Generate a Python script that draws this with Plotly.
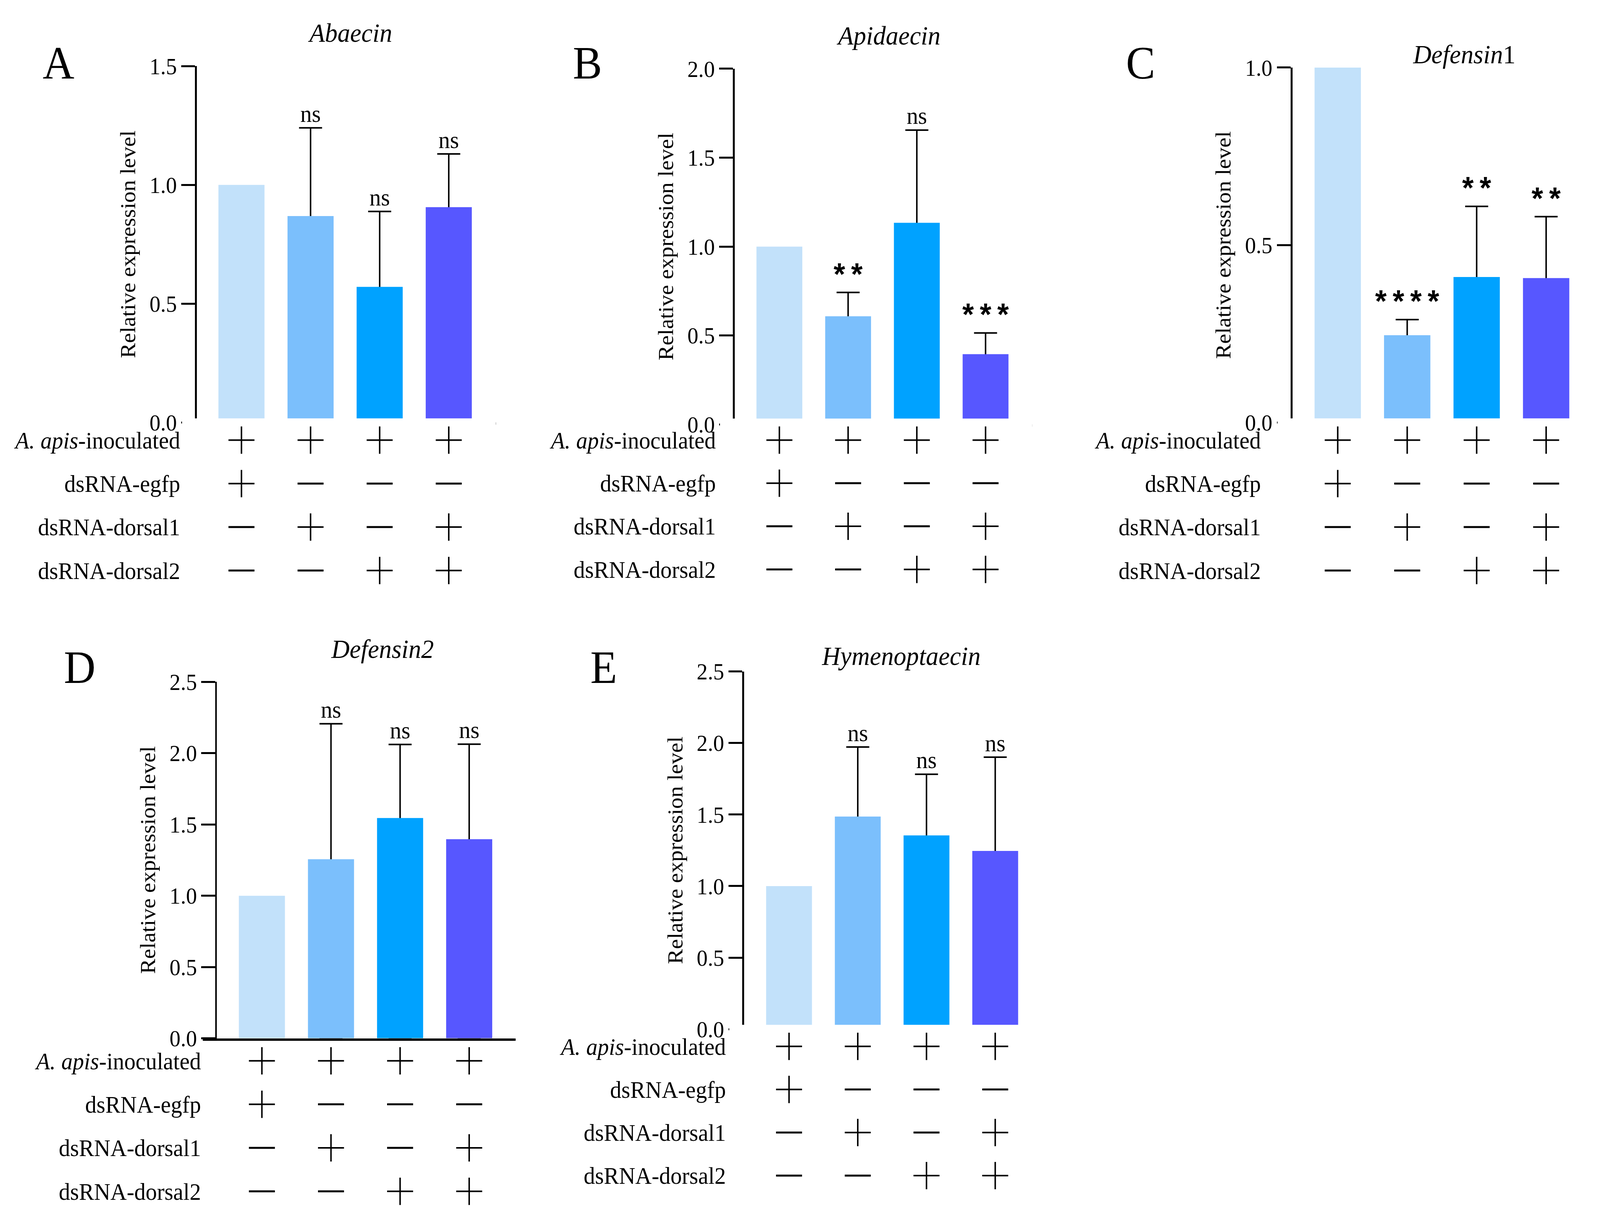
import plotly.graph_objects as go

# --- data ---
genes = ["<i>Abaecin</i>", "<i>Apidaecin</i>", "<i>Defensin</i>1", "<i>Defensin2</i>", "<i>Hymenoptaecin</i>"]
letters = ["A", "B", "C", "D", "E"]

abaecin_mean = [1.0, 0.869, 0.571, 0.906]
abaecin_err = [None, 0.371, 0.317, 0.224]
abaecin_sig = ["", "ns", "ns", "ns"]

apidaecin_mean = [1.0, 0.608, 1.134, 0.395]
apidaecin_err = [None, 0.134, 0.521, 0.119]
apidaecin_sig = ["", "**", "ns", "***"]

defensin1_mean = [1.0, 0.246, 0.410, 0.407]
defensin1_err = [None, 0.044, 0.199, 0.173]
defensin1_sig = ["", "****", "**", "**"]

defensin2_mean = [1.0, 1.256, 1.545, 1.396]
defensin2_err = [None, 0.950, 0.516, 0.667]
defensin2_sig = ["", "ns", "ns", "ns"]

hymenoptaecin_mean = [1.0, 1.486, 1.354, 1.246]
hymenoptaecin_err = [None, 0.486, 0.428, 0.655]
hymenoptaecin_sig = ["", "ns", "ns", "ns"]

y_max = [1.5, 2.0, 1.0, 2.5, 2.5]

row_labels = ["<i>A. apis</i>-inoculated", "dsRNA-egfp", "dsRNA-dorsal1", "dsRNA-dorsal2"]
row_inoculated = ["+", "+", "+", "+"]
row_egfp = ["+", "-", "-", "-"]
row_dorsal1 = ["-", "+", "-", "+"]
row_dorsal2 = ["-", "-", "+", "+"]

means = [abaecin_mean, apidaecin_mean, defensin1_mean, defensin2_mean, hymenoptaecin_mean]
errs = [abaecin_err, apidaecin_err, defensin1_err, defensin2_err, hymenoptaecin_err]
sigs = [abaecin_sig, apidaecin_sig, defensin1_sig, defensin2_sig, hymenoptaecin_sig]
table = [row_inoculated, row_egfp, row_dorsal1, row_dorsal2]

bar_colors = ["#C2E1FA", "#7BBFFC", "#00A2FF", "#5757FF"]

W, H = 4307, 3138
SERIF = "Liberation Serif, Times New Roman, serif"

# panel placement in pixels (x-axis start/end, first bar centre, bar step,
# y-axis x, y top / zero, first/last table row, title, letter, label standoff)
geo = [
    dict(x0=490, x1=1335, c0=650, step=186, yax=527, ytop=140, ybot=1072,
         r1=1118, r4=1459, title=(942, 53), letter=(157, 132), stand=4),
    dict(x0=1938, x1=2779, c0=2098, step=185, yax=1975, ytop=147, ybot=1077,
         r1=1118, r4=1456, title=(2392, 60), letter=(1581, 132), stand=10),
    dict(x0=3439, x1=4286, c0=3601, step=187, yax=3476, ytop=144, ybot=1072,
         r1=1118, r4=1459, title=(3941, 109), letter=(3070, 132), stand=44),
    dict(x0=546, x1=1388, c0=705, step=186, yax=581, ytop=1750, ybot=2682,
         r1=2741, r4=3082, title=(1029, 1664), letter=(214, 1713), stand=4),
    dict(x0=1963, x1=2807, c0=2124, step=185, yax=2000, ytop=1723, ybot=2658,
         r1=2703, r4=3041, title=(2426, 1682), letter=(1625, 1713), stand=8),
]


def fx(p):
    return p / W


def fy(p):
    return min(max(1 - p / H, 0), 1)


fig = go.Figure()
annotations = []
cols = [0, 1, 2, 3]

for k, g in enumerate(geo):
    xa = f"x{k + 1}"
    ya = f"y{2 * k + 1}"
    yt = f"y{2 * k + 2}"

    tops = [m + e if e is not None else None for m, e in zip(means[k], errs[k])]
    has_err = [i for i, e in enumerate(errs[k]) if e is not None]

    # error bars sit on an invisible bar trace underneath, so the stem and lower
    # cap are hidden by the coloured bars and the x-axis line
    fig.add_trace(go.Bar(
        x=[cols[i] for i in has_err], y=[means[k][i] for i in has_err], width=0.667,
        marker=dict(color="rgba(0,0,0,0)", line=dict(width=0)),
        error_y=dict(type="data", array=[errs[k][i] for i in has_err],
                     arrayminus=[means[k][i] for i in has_err], symmetric=False,
                     color="black", thickness=4, width=31),
        xaxis=xa, yaxis=ya, showlegend=False, hoverinfo="skip",
    ))
    fig.add_trace(go.Bar(
        x=cols, y=means[k], width=0.667, marker=dict(color=bar_colors, line=dict(width=0)),
        xaxis=xa, yaxis=ya, showlegend=False,
    ))

    sx = [c for c, s in zip(cols, sigs[k]) if s]
    sy = [t for t, s in zip(tops, sigs[k]) if s]
    st = [s if s == "ns" else "\u2009".join(s) for s in sigs[k] if s]
    fam = [SERIF if s == "ns" else "Liberation Sans, Arial" for s in st]
    size = [62 if s == "ns" else 80 for s in st]
    fig.add_trace(go.Scatter(
        x=sx, y=sy, mode="text", text=st, textposition="top center",
        textfont=dict(family=fam, size=size, color="black", weight=[400 if s == "ns" else 700 for s in st]),
        cliponaxis=False, xaxis=xa, yaxis=ya, showlegend=False,
    ))

    # +/- table
    px_, py_, mx_, my_ = [], [], [], []
    for r, row in enumerate(table):
        for c, v in enumerate(row):
            if v == "+":
                px_.append(c)
                py_.append(r)
            else:
                mx_.append(c)
                my_.append(r)
    fig.add_trace(go.Scatter(
        x=px_, y=py_, mode="markers",
        marker=dict(symbol="cross-thin", size=50, line=dict(width=4, color="black")),
        xaxis=xa, yaxis=yt, showlegend=False, cliponaxis=False,
    ))
    fig.add_trace(go.Scatter(
        x=mx_, y=my_, mode="markers",
        marker=dict(symbol="line-ew", size=50, line=dict(width=5, color="black")),
        xaxis=xa, yaxis=yt, showlegend=False, cliponaxis=False,
    ))

    lo = (g["x0"] - g["c0"]) / g["step"]
    hi = (g["x1"] - g["c0"]) / g["step"]
    s = (g["r4"] - g["r1"]) / 3
    t_top = g["r1"] - s / 2
    t_bot = min(g["r4"] + s / 2, H)

    fig.layout[f"xaxis{k + 1}"] = dict(
        domain=[fx(g["x0"]), fx(g["x1"])], range=[lo, hi], anchor=ya,
        showline=True, linecolor="black", linewidth=6, showticklabels=False,
        ticks="", showgrid=False, zeroline=False, fixedrange=True, layer="above traces",
    )
    fig.layout[f"yaxis{2 * k + 1}"] = dict(
        domain=[fy(g["ybot"]), fy(g["ytop"])], range=[0, y_max[k]], anchor="free",
        position=fx(g["yax"]), showline=True, linecolor="black", linewidth=5,
        ticks="outside", ticklen=37, tickwidth=5, tickcolor="black", dtick=0.5,
        tickformat=".1f", tickfont=dict(family=SERIF, size=59, color="black"),
        showgrid=False, zeroline=False,
        title=dict(text="Relative expression level", standoff=18,
                   font=dict(family=SERIF, size=58, color="black")),
    )
    fig.layout[f"yaxis{2 * k + 2}"] = dict(
        domain=[fy(t_bot), fy(t_top)],
        range=[(t_bot - g["r1"]) / s, (t_top - g["r1"]) / s], anchor=xa,
        showline=False, ticks="", tickvals=[0, 1, 2, 3], ticktext=row_labels,
        tickfont=dict(family=SERIF, size=61, color="black"), ticklabelstandoff=g["stand"],
        showgrid=False, zeroline=False,
    )

    annotations.append(dict(
        text=genes[k], x=fx(g["title"][0]), y=fy(g["title"][1]), xref="paper", yref="paper",
        xanchor="center", yanchor="middle", showarrow=False,
        font=dict(family=SERIF, size=68, color="black"),
    ))
    annotations.append(dict(
        text=letters[k], x=fx(g["letter"][0]), y=fy(g["letter"][1]), xref="paper", yref="paper",
        xanchor="center", yanchor="middle", showarrow=False,
        font=dict(family=SERIF, size=118, color="black"),
    ))

fig.update_layout(
    width=W, height=H, margin=dict(l=0, r=0, t=0, b=0),
    paper_bgcolor="white", plot_bgcolor="white", barmode="overlay",
    annotations=annotations, showlegend=False,
    font=dict(family=SERIF, color="black"),
)

# stretch the fixed-size figure so it exactly fills the browser viewport
fit_js = """
var gd = document.getElementById('{plot_id}');
document.documentElement.style.overflow = 'hidden';
document.body.style.margin = '0';
gd.style.position = 'fixed';
gd.style.left = '0px';
gd.style.top = '0px';
gd.style.transformOrigin = '0 0';
gd.style.transform = 'scale(' + (window.innerWidth / WW) + ',' + (window.innerHeight / HH) + ')';
""".replace("WW", str(W)).replace("HH", str(H))

fig.write_html("out.html", post_script=fit_js, config={"displayModeBar": False})
